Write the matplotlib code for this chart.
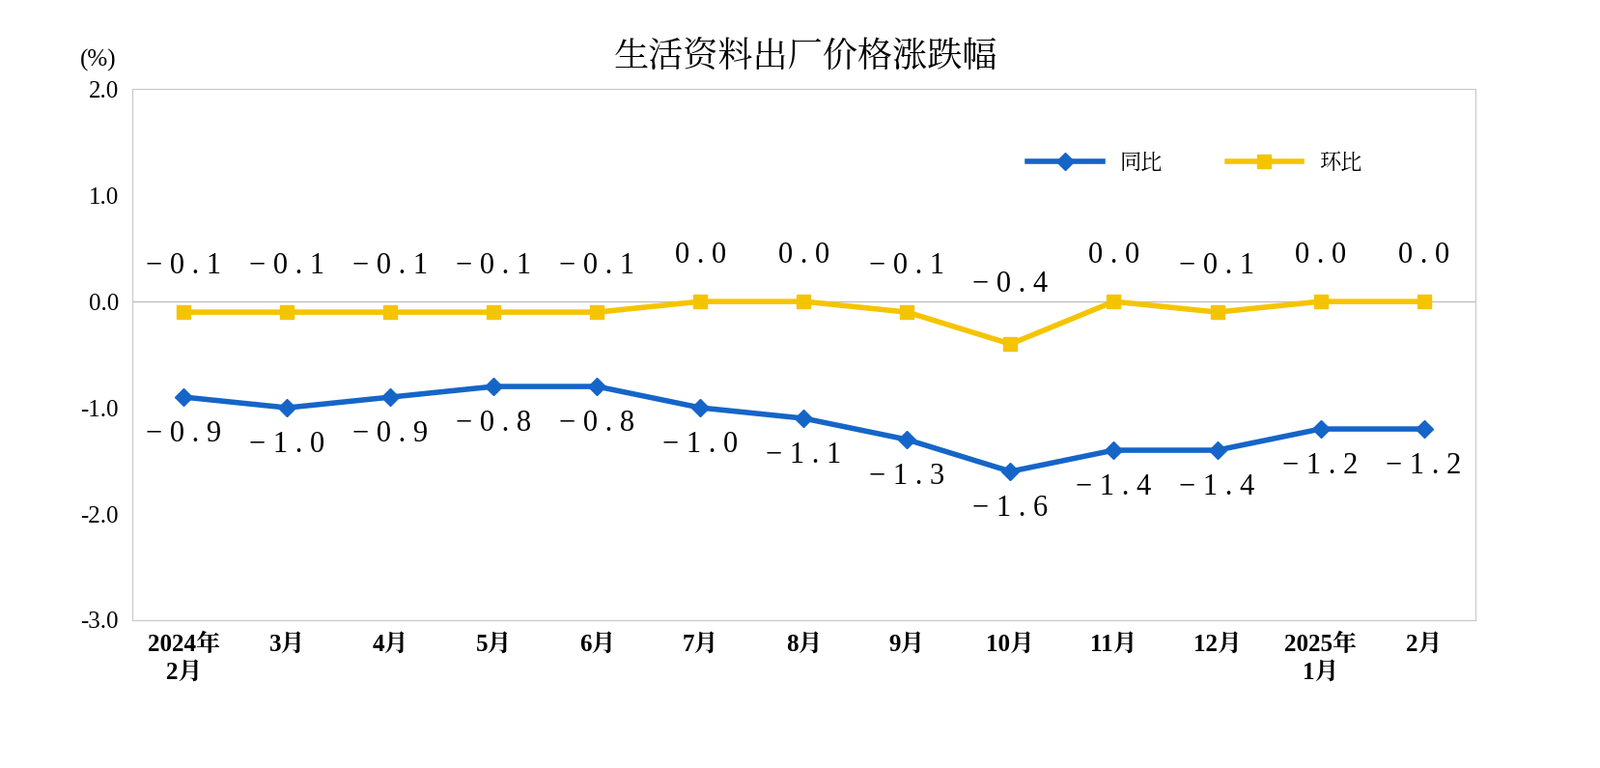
import matplotlib
matplotlib.use("Agg")
import matplotlib.pyplot as plt
from matplotlib import font_manager as fm

cats = ["2024年\n2月","3月","4月","5月","6月","7月","8月","9月","10月","11月","12月","2025年\n1月","2月"]
yoy = [-0.9,-1.0,-0.9,-0.8,-0.8,-1.0,-1.1,-1.3,-1.6,-1.4,-1.4,-1.2,-1.2]
mom = [-0.1,-0.1,-0.1,-0.1,-0.1,0.0,0.0,-0.1,-0.4,0.0,-0.1,0.0,0.0]

cjk_name = None
for f in fm.fontManager.ttflist:
    if "CJK" in f.name and ("SC" in f.name or "JP" in f.name):
        cjk_name = f.name
        break
if cjk_name is None:
    for p in fm.findSystemFonts():
        if "CJK" in p:
            fm.fontManager.addfont(p)
            cjk_name = fm.FontProperties(fname=p).get_name()
            break
cjk = cjk_name or "DejaVu Sans"

plt.rcParams["font.family"] = ["Liberation Serif", cjk]
fig = plt.figure(figsize=(16.58, 7.95), dpi=100)
ax = fig.add_axes([0.0826, 0.1925, 0.839, 0.6915])
x = list(range(len(cats)))
ax.plot(x, yoy, color="#1565C8", lw=4, marker="D", ms=9, label="同比")
ax.plot(x, mom, color="#F5C400", lw=4, marker="s", ms=10, label="环比")
ax.axhline(0, color="#bfbfbf", lw=1, zorder=0)
ax.set_xlim(-0.5, 12.5)
ax.set_ylim(-3, 2)
ax.set_yticks([-3,-2,-1,0,1,2])
ax.set_yticklabels([f"{v:.1f}" for v in [-3,-2,-1,0,1,2]], fontsize=18)
ax.set_xticks(x)
ax.set_xticklabels(cats, fontsize=18, fontweight="bold", linespacing=1.3)
ax.tick_params(length=0, pad=10)
for s in ax.spines.values():
    s.set_color("#c8c8c8")
def fmt(v):
    return " ".join(f"{v:.1f}".replace("-", "−"))
for i, v in enumerate(mom):
    ax.text(i, v + 0.3 if i != 8 else 0.03, fmt(v), ha="center", va="bottom", fontsize=22)
for i, v in enumerate(yoy):
    ax.text(i, v - 0.22, fmt(v), ha="center", va="top", fontsize=22)
ax.text(-0.012, 1.075, "(%)", transform=ax.transAxes, ha="right", va="top", fontsize=18)
fig.text(0.503, 0.925, "生活资料出厂价格涨跌幅", ha="center", va="center", fontsize=26, family=cjk)
ax.legend(loc="upper right", bbox_to_anchor=(0.93, 0.92), ncol=2, frameon=False,
          prop={"family": cjk, "size": 16}, handlelength=3.5, columnspacing=3)
fig.savefig("out.png")
